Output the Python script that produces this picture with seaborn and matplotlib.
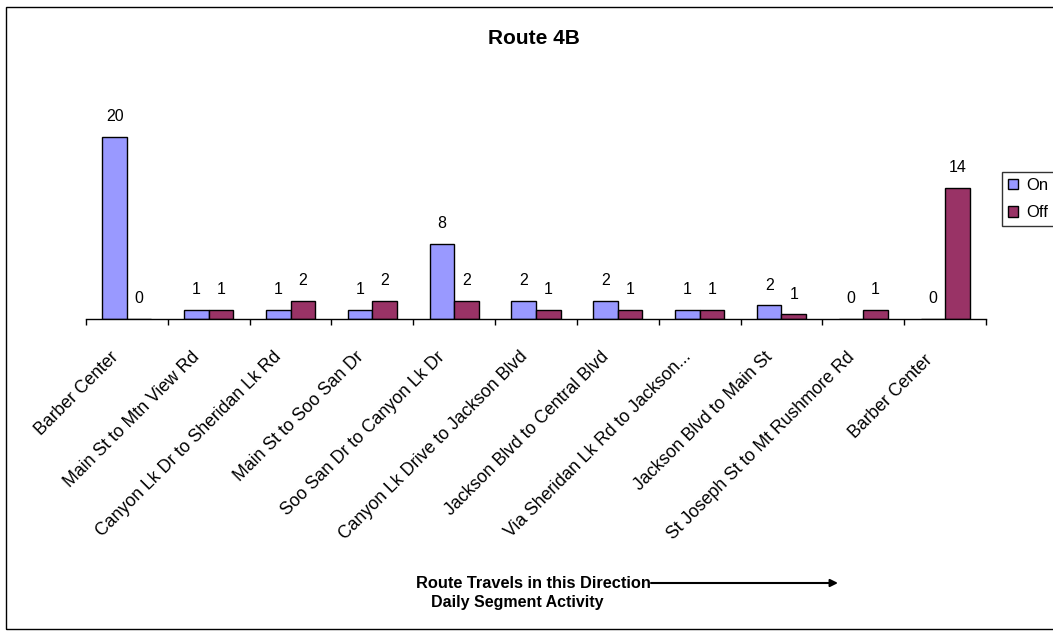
import math
import numpy as np
import pandas as pd
import seaborn as sns
import matplotlib
matplotlib.use("Agg")
import matplotlib.pyplot as plt
from matplotlib.patches import Rectangle

segments = [
    "Barber Center",
    "Main St to Mtn View Rd",
    "Canyon Lk Dr to Sheridan Lk Rd",
    "Main St to Soo San Dr",
    "Soo San Dr to Canyon Lk Dr",
    "Canyon Lk Drive to Jackson Blvd",
    "Jackson Blvd to Central Blvd",
    "Via Sheridan Lk Rd to Jackson...",
    "Jackson Blvd to Main St",
    "St Joseph St to Mt Rushmore Rd",
    "Barber Center ",
]
on_values = [20, 1, 1, 1, 8.25, 2, 2, 1, 1.5, 0, 0]
off_values = [0, 1, 2, 2, 2, 1, 1, 1, 0.5, 1, 14.4]
series = ["On", "Off"]
colors = {"On": "#9999FF", "Off": "#993366"}

sns.set_theme(style="white")
plt.rcParams["font.family"] = ["Liberation Sans", "DejaVu Sans"]
plt.rcParams["text.color"] = "black"
plt.rcParams["xtick.color"] = "black"
plt.rcParams["xtick.labelcolor"] = "black"

df = pd.DataFrame({
    "Segment": segments * 2,
    "Series": ["On"] * len(segments) + ["Off"] * len(segments),
    "Value": on_values + off_values,
})

W, H = 1053, 635
fig = plt.figure(figsize=(W / 100, H / 100), dpi=100)
ax = fig.add_axes([86 / W, 1 - 319 / H, (986 - 86) / W, (319 - 91) / H])

sns.barplot(data=df, x="Segment", y="Value", hue="Series", order=segments,
            hue_order=series, palette=colors, width=0.6, gap=0,
            edgecolor="black", linewidth=1.0, saturation=1, ax=ax, legend=False)

ax.set_ylim(0, 25)
ax.set_xlim(-0.5, len(segments) - 0.5)

def half_up(v):
    return str(int(math.floor(v + 0.5)))

for cont, vals in zip(ax.containers, [on_values, off_values]):
    ax.bar_label(cont, labels=[half_up(v) for v in vals], padding=9,
                 fontsize=11.5, color="black")

for s in ["left", "top", "right"]:
    ax.spines[s].set_visible(False)
ax.spines["bottom"].set_color("black")
ax.spines["bottom"].set_linewidth(1.0)
ax.set_yticks([])
ax.set_ylabel("")
ax.set_xlabel("")

ax.set_xticks(np.arange(-0.5, len(segments), 1.0))
ax.set_xticklabels([])
ax.tick_params(axis="x", which="major", direction="out", length=4, width=1,
               color="black", bottom=True)
ax.set_xticks(np.arange(len(segments)) - 0.14, minor=True)
ax.set_xticklabels(segments, minor=True, rotation=45, ha="right",
                   rotation_mode="anchor", fontsize=12.7, color="black")
ax.tick_params(axis="x", which="minor", length=0, pad=25.5)
for lbl in ax.get_xticklabels(minor=True):
    lbl.set_va("center")

fig.text(534 / W, 1 - 38.5 / H, "Route 4B", ha="center", va="center",
         fontsize=15, fontweight="bold")

fig.text(533 / W, 1 - 583 / H, "Route Travels in this Direction", ha="center",
         va="center", fontsize=11.8, fontweight="bold")
fig.text(517 / W, 1 - 603 / H, "Daily Segment Activity", ha="center",
         va="center", fontsize=11.5, fontweight="bold")
fig.add_artist(matplotlib.patches.FancyArrowPatch(
    (651 / W, 1 - 583 / H), (838 / W, 1 - 583 / H), transform=fig.transFigure,
    arrowstyle="-|>", mutation_scale=11, color="black", linewidth=1.5,
    shrinkA=0, shrinkB=0))

handles = [Rectangle((0, 0), 1, 1, facecolor=colors[s], edgecolor="black", linewidth=1) for s in series]
leg = fig.legend(handles, series, loc="upper left",
                 bbox_to_anchor=(1002 / W, 1 - 172 / H), bbox_transform=fig.transFigure,
                 frameon=True, fancybox=False, edgecolor="black", fontsize=12,
                 handlelength=0.6, handleheight=0.6, handletextpad=0.5,
                 borderpad=0.35, labelspacing=0.75, borderaxespad=0)
leg.get_frame().set_linewidth(1.0)

fig.add_artist(Rectangle((6 / W, 1 - 629 / H), 1.2, (629 - 7) / H,
                         transform=fig.transFigure, fill=False,
                         edgecolor="black", linewidth=1.0))

fig.savefig("out.png", dpi=100)
